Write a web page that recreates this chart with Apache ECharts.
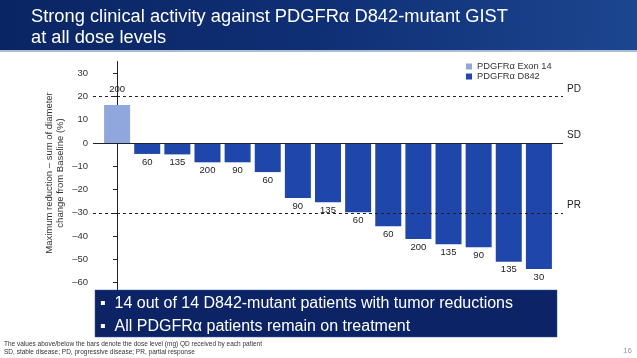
<!DOCTYPE html>
<html><head><meta charset="utf-8">
<script src="https://cdn.jsdelivr.net/npm/echarts@6/dist/echarts.min.js"></script>
<style>html,body{margin:0;padding:0;background:#fff;}#c{width:637px;height:358px;}</style>
</head><body><div id="c"></div>
<script>
const titleLines = ['Strong clinical activity against PDGFRα D842-mutant GIST', 'at all dose levels'];
const yAxisTitle = ['Maximum reduction – sum of diameter', 'change from Baseline (%)'];
const seriesNames = ['PDGFRα Exon 14', 'PDGFRα D842'];
const patients = [0,1,2,3,4,5,6,7,8,9,10,11,12,13,14];
const groups = [0,1,1,1,1,1,1,1,1,1,1,1,1,1,1];
const changes = [16.3,-4.7,-4.9,-8.3,-8.3,-12.5,-23.6,-25.5,-29.8,-35.8,-41.2,-43.5,-44.8,-51.0,-54.1];
const doses = ['200','60','135','200','90','60','90','135','60','60','200','135','90','135','30'];
const yTicks = [-60,-50,-40,-30,-20,-10,0,10,20,30];
const refLines = [{v:20,name:'PD',dash:true},{v:0,name:'SD',dash:false},{v:-30,name:'PR',dash:true}];
const bullets = ['14 out of 14 D842-mutant patients with tumor reductions','All PDGFRα patients remain on treatment'];
const footnotes = ['The values above/below the bars denote the dose level (mg) QD received by each patient','SD, stable disease; PD, progressive disease; PR, partial response'];
const colors = ['#8fa7dc','#1f46aa'];

function seriesData(g){
  return patients.filter(i=>groups[i]===g).map(i=>({
    value:[patients[i],changes[i]],
    label:{position: changes[i]>=0?'top':'bottom', distance: changes[i]>=0?11:3, formatter: doses[i]}
  }));
}

const chart = echarts.init(document.getElementById('c'));
const font = 'Liberation Sans, Arial, sans-serif';
chart.setOption({
  animation:false,
  textStyle:{fontFamily:font},
  graphic:[
    {type:'rect',z:-1,shape:{x:0,y:0,width:637,height:50},style:{fill:{type:'linear',x:0,y:0,x2:1,y2:0.4,colorStops:[{offset:0,color:'#0a2563'},{offset:0.5,color:'#0f2f75'},{offset:1,color:'#1c4690'}]}}},
    {type:'rect',z:-1,shape:{x:0,y:50,width:637,height:2},style:{fill:'#aebbd3'}},
    {type:'text',left:31,top:6,style:{text:titleLines.join('\n'),fill:'#fff',font:'18.3px '+font,lineHeight:21}},
    {type:'text',x:55,y:173,rotation:Math.PI/2,style:{text:yAxisTitle.join('\n'),fill:'#333',font:'9.5px '+font,lineHeight:11,align:'center',verticalAlign:'middle'}},
    {type:'rect',z:10,shape:{x:95,y:290,width:462,height:47},style:{fill:'#0c2466',stroke:'#3a5590',lineWidth:0.5}},
    {type:'text',z:11,left:100,top:292,style:{text:bullets.map(b=>'▪  '+b).join('\n'),fill:'#fff',font:'16px '+font,lineHeight:23}},
    {type:'text',left:4,top:340,style:{text:footnotes.join('\n'),fill:'#333',font:'6.5px '+font,lineHeight:8}},
    {type:'text',left:623,top:347,style:{text:'16',fill:'#999',font:'8px '+font}}
  ],
  legend:{
    left:461,top:57,orient:'vertical',itemWidth:6,itemHeight:6,itemGap:1,icon:'rect',
    textStyle:{fontSize:9.3,color:'#333',fontFamily:font},
    data:seriesNames
  },
  grid:{left:93,right:74,top:61.5,bottom:66},
  xAxis:{type:'value',min:-0.8,max:14.8,show:false},
  yAxis:{
    type:'value',min:-64,max:35,
    axisLine:{show:true,lineStyle:{color:'#222',width:1}},
    axisTick:{show:true,length:4,customValues:yTicks,lineStyle:{color:'#222'}},
    axisLabel:{customValues:yTicks,fontSize:9.5,color:'#333',margin:5,fontFamily:font,formatter:v=>String(v).replace('-','–')},
    splitLine:{show:false}
  },
  series:[
    {name:seriesNames[0],type:'bar',barWidth:26,barGap:'-100%',itemStyle:{color:colors[0]},
     label:{show:true,fontSize:9.5,color:'#222',fontFamily:font},data:seriesData(0),
     markLine:{symbol:'none',silent:true,
       data:refLines.map(r=>({yAxis:r.v,lineStyle:{type:r.dash?[3,3]:'solid',color:'#222',width:1},
         label:{formatter:r.name+'\n ',lineHeight:15,position:'end',distance:4,fontSize:10,color:'#222',fontFamily:font}}))}},
    {name:seriesNames[1],type:'bar',barWidth:26,barGap:'-100%',itemStyle:{color:colors[1]},
     label:{show:true,fontSize:9.5,color:'#222',fontFamily:font},data:seriesData(1)}
  ]
});
</script></body></html>
